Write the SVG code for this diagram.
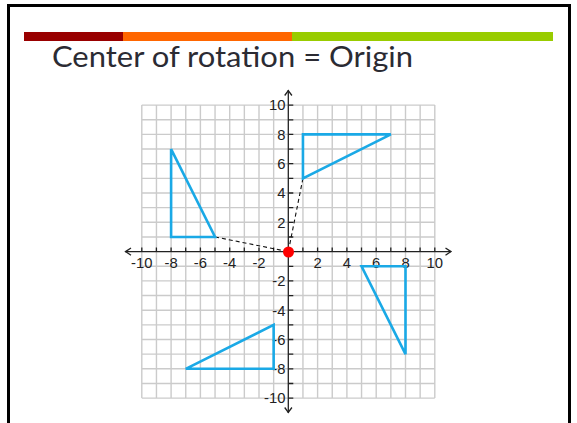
<svg xmlns="http://www.w3.org/2000/svg" width="577" height="423" viewBox="0 0 577 423">
<style>
.grid{fill:none;stroke:#cbcbcb;stroke-width:1.4;vector-effect:non-scaling-stroke}
.axis{fill:none;stroke:#222;stroke-width:1.3}
.tri{fill:none;stroke:#1aa9e6;stroke-width:2.6;stroke-linejoin:miter;vector-effect:non-scaling-stroke}
.dash{fill:none;stroke:#111;stroke-width:1.1;stroke-dasharray:4 3;vector-effect:non-scaling-stroke}
.lbl{font-family:"Liberation Sans",Arial,sans-serif;font-size:14.8px;fill:#222}
.xl{text-anchor:middle}
.yl{text-anchor:end}
</style>
<rect width="577" height="423" fill="#fff"/>
<rect id="frame" x="8.5" y="5.5" width="561" height="430" fill="none" stroke="#000" stroke-width="3"/>
<g id="colorbar">
<rect x="24" y="32" width="99" height="9" fill="#990000"/>
<rect x="123" y="32" width="169" height="9" fill="#ff6600"/>
<rect x="292" y="32" width="261" height="9" fill="#99cc00"/>
</g>
<text id="title" x="52" y="67" font-family="Lato,'Open Sans',sans-serif" font-size="29.5" fill="#2b2b33" textLength="361" lengthAdjust="spacingAndGlyphs">Center of rotation = Origin</text>
<g id="plane" transform="translate(288.3 251.6) scale(14.65 -14.65)">
<path class="grid" d="M-10 -10V10M-9 -10V10M-8 -10V10M-7 -10V10M-6 -10V10M-5 -10V10M-4 -10V10M-3 -10V10M-2 -10V10M-1 -10V10M1 -10V10M2 -10V10M3 -10V10M4 -10V10M5 -10V10M6 -10V10M7 -10V10M8 -10V10M9 -10V10M10 -10V10M-10 -10H10M-10 -9H10M-10 -8H10M-10 -7H10M-10 -6H10M-10 -5H10M-10 -4H10M-10 -3H10M-10 -2H10M-10 -1H10M-10 1H10M-10 2H10M-10 3H10M-10 4H10M-10 5H10M-10 6H10M-10 7H10M-10 8H10M-10 9H10M-10 10H10"/>
</g>
<g id="axes">
<path class="axis" d="M125 251.6H451M288.3 90V413"/>
<path class="axis" d="M131 248L125.5 251.6L131 255.2M445.5 248L451 251.6L445.5 255.2M284.7 95.5L288.3 90.5L291.9 95.5M284.7 407.5L288.3 412.5L291.9 407.5"/>
<path class="axis" d="M141.8 251.6v-4M156.4 251.6v-4M171.1 251.6v-4M185.7 251.6v-4M200.4 251.6v-4M215 251.6v-4M229.7 251.6v-4M244.3 251.6v-4M259 251.6v-4M273.6 251.6v-4M302.9 251.6v-4M317.6 251.6v-4M332.2 251.6v-4M346.9 251.6v-4M361.5 251.6v-4M376.2 251.6v-4M390.8 251.6v-4M405.5 251.6v-4M420.1 251.6v-4M434.8 251.6v-4M288.3 105.1h5M288.3 119.8h5M288.3 134.4h5M288.3 149.1h5M288.3 163.7h5M288.3 178.4h5M288.3 193h5M288.3 207.7h5M288.3 222.3h5M288.3 237h5M288.3 266.3h5M288.3 280.9h5M288.3 295.6h5M288.3 310.2h5M288.3 324.9h5M288.3 339.5h5M288.3 354.2h5M288.3 368.8h5M288.3 383.5h5M288.3 398.1h5"/>
</g>
<g id="labels" class="lbl">
<text class="xl" x="141.8" y="268">-10</text>
<text class="xl" x="171.1" y="268">-8</text>
<text class="xl" x="200.4" y="268">-6</text>
<text class="xl" x="229.7" y="268">-4</text>
<text class="xl" x="259" y="268">-2</text>
<text class="xl" x="317.6" y="268">2</text>
<text class="xl" x="346.9" y="268">4</text>
<text class="xl" x="376.2" y="268">6</text>
<text class="xl" x="405.5" y="268">8</text>
<text class="xl" x="434.8" y="268">10</text>
<text class="yl" x="285.5" y="110.4">10</text>
<text class="yl" x="285.5" y="139.7">8</text>
<text class="yl" x="285.5" y="169">6</text>
<text class="yl" x="285.5" y="198.3">4</text>
<text class="yl" x="285.5" y="227.6">2</text>
<text class="yl" x="285.5" y="286.2">-2</text>
<text class="yl" x="285.5" y="315.5">-4</text>
<text class="yl" x="285.5" y="344.8">-6</text>
<text class="yl" x="285.5" y="374.1">-8</text>
<text class="yl" x="285.5" y="403.4">-10</text>
</g>
<g id="connectors" transform="translate(288.3 251.6) scale(14.65 -14.65)">
<path class="dash" d="M-5 1L0 0"/>
<path class="dash" d="M1 5L0 0"/>
</g>
<g transform="translate(288.3 251.6) scale(14.65 -14.65)">
<g id="triangle-A"><path class="tri" d="M-8 1V7L-5 1Z"/></g>
<g id="triangle-B"><path class="tri" d="M1 5V8H7Z"/></g>
<g id="triangle-C"><path class="tri" d="M5 -1H8V-7Z"/></g>
<g id="triangle-D"><path class="tri" d="M-1 -5V-8H-7Z"/></g>
</g>
<circle id="origin" cx="288.5" cy="252" r="5.5" fill="#ff0000"/>
</svg>
